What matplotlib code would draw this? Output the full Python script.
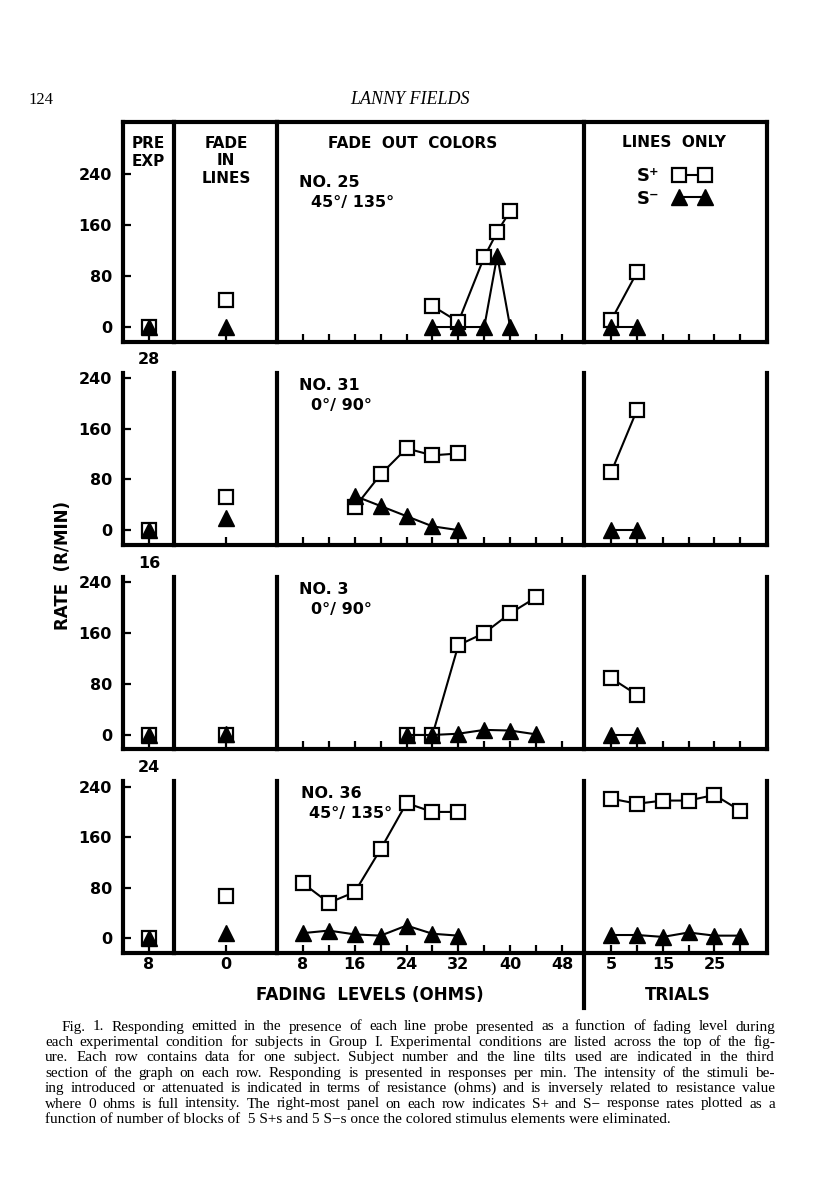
import numpy as np
import matplotlib.pyplot as plt
from matplotlib.lines import Line2D

plt.rcParams['font.family'] = ['DejaVu Sans']
plt.rcParams['font.weight'] = 'bold'

# 数据 (rate, responses per min)
subjects = ['NO. 25', 'NO. 31', 'NO. 3', 'NO. 36']
tilts = ['45°/ 135°', '0°/ 90°', '0°/ 90°', '45°/ 135°']
above_notes = ['', '28', '16', '24']

pre_x = 8
pre_splus = [0, 0, 0, 0]
pre_sminus = [0, 0, 0, 0]

fadein_x = 0
fadein_splus = [42, 52, 0, 67]
fadein_sminus = [0, 19, 2, 8]

# fade out colors (ohms)
fo_ohms = [[28, 32, 36, 38, 40],
           [16, 20, 24, 28, 32],
           [24, 28, 32, 36, 40, 44],
           [8, 12, 16, 20, 24, 28, 32]]
fo_splus = [[33, 8, 110, 149, 182],
            [36, 88, 129, 118, 121],
            [0, 0, 141, 160, 191, 216],
            [87, 56, 73, 141, 214, 200, 200]]
fo_sminus = [[0, 0, 0, 112, 0],
             [54, 38, 22, 6, 0],
             [0, 0, 2, 8, 7, 1],
             [8, 12, 6, 4, 20, 7, 4]]

# lines only (trials)
lo_trials = [[5, 10], [5, 10], [5, 10], [5, 10, 15, 20, 25, 30]]
lo_splus = [[11, 86], [92, 190], [89, 63], [221, 213, 218, 218, 227, 202]]
lo_sminus = [[0, 0], [0, 0], [0, 0], [5, 5, 2, 9, 4, 4]]

fo_major = [8, 16, 24, 32, 40, 48]
fo_minor = [12, 20, 28, 36, 44]
lo_major = [5, 15, 25]
lo_minor = [10, 20, 30]
y_ticks = [0, 80, 160, 240]

caption = [
    "Fig. 1. Responding emitted in the presence of each line probe presented as a function of fading level during",
    "each experimental condition for subjects in Group I. Experimental conditions are listed across the top of the fig-",
    "ure. Each row contains data for one subject. Subject number and the line tilts used are indicated in the third",
    "section of the graph on each row. Responding is presented in responses per min. The intensity of the stimuli be-",
    "ing introduced or attenuated is indicated in terms of resistance (ohms) and is inversely related to resistance value",
    "where 0 ohms is full intensity. The right-most panel on each row indicates S+ and S\u2212 response rates plotted as a",
    "function of number of blocks of  5 S+s and 5 S\u2212s once the colored stimulus elements were eliminated.",
]

W, H = 816, 1200
fig = plt.figure(figsize=(W / 100, H / 100), dpi=100)


def fx(px):
    return px / W


def fy(py):
    return 1 - py / H


col_edges = [123, 174, 277, 584, 767]
xlims = [(6, 10), (-1, 1), (4, 51.4), (-0.3, 35.2)]
row_tops = [122, 373, 577, 781]
row_bots = [342, 545, 749, 953]
ylims = [(-23.5, 321.5), (-23.5, 248), (-22, 248), (-23.5, 249)]

sq = dict(color='k', lw=1.5, marker='s', ms=10, mfc='white', mec='k', mew=1.6, clip_on=False, zorder=3)
tri = dict(color='k', lw=1.5, marker='^', ms=11, mfc='k', mec='k', clip_on=False, zorder=4)

for i in range(4):
    top, bot = row_tops[i], row_bots[i]
    axs = []
    for j in range(4):
        ax = fig.add_axes([fx(col_edges[j]), fy(bot), (col_edges[j + 1] - col_edges[j]) / W, (bot - top) / H])
        ax.set_xlim(*xlims[j])
        ax.set_ylim(*ylims[i])
        for name, sp in ax.spines.items():
            sp.set_linewidth(3.0)
            sp.set_capstyle('projecting')
        ax.spines['top'].set_visible(i == 0)
        ax.spines['right'].set_visible(j == 3)
        ax.tick_params(which='both', direction='in', length=6, width=1.6, labelsize=11.5, pad=3)
        ax.tick_params(axis='y', pad=8)
        if j == 0:
            ax.set_yticks(y_ticks)
        else:
            ax.set_yticks([])
        axs.append(ax)

    axs[0].set_xticks([pre_x])
    axs[1].set_xticks([fadein_x])
    axs[2].set_xticks(fo_major)
    axs[2].set_xticks(fo_minor, minor=True)
    axs[3].set_xticks(lo_major)
    axs[3].set_xticks(lo_minor, minor=True)
    if i < 3:
        for ax in axs:
            ax.tick_params(labelbottom=False)

    # pre exp / fade in single probes
    axs[0].plot([pre_x], [pre_splus[i]], **sq)
    axs[0].plot([pre_x], [pre_sminus[i]], **tri)
    axs[1].plot([fadein_x], [fadein_splus[i]], **sq)
    axs[1].plot([fadein_x], [fadein_sminus[i]], **tri)

    # fade out colors
    axs[2].plot(fo_ohms[i], fo_splus[i], **sq)
    axs[2].plot(fo_ohms[i], fo_sminus[i], **tri)

    # lines only
    axs[3].plot(lo_trials[i], lo_splus[i], **sq)
    axs[3].plot(lo_trials[i], lo_sminus[i], **tri)

    # subject number and tilts
    nudge = [0, 0, 0, 2][i]
    fig.text(fx(299 + nudge), fy(top + (53 if i == 0 else 5)), subjects[i], ha='left', va='top', size=11.5)
    fig.text(fx(311 - nudge), fy(top + (73 if i == 0 else 25)), tilts[i], ha='left', va='top', size=11.5)

    if above_notes[i]:
        fig.text(fx(149), fy(top - 14), above_notes[i], ha='center', va='center', size=11.5)

    if i == 0:
        fig.text(fx(148), fy(136), 'PRE\nEXP', ha='center', va='top', size=11, linespacing=1.25)
        fig.text(fx(226), fy(136), 'FADE\nIN\nLINES', ha='center', va='top', size=11, linespacing=1.2)
        fig.text(fx(413), fy(136), 'FADE  OUT  COLORS', ha='center', va='top', size=11)
        fig.text(fx(674), fy(135), 'LINES  ONLY', ha='center', va='top', size=11)
        handles = [Line2D([], [], color='k', lw=1.5, marker='s', ms=10, mfc='white', mec='k', mew=1.6),
                   Line2D([], [], color='k', lw=1.5, marker='^', ms=11)]
        axs[3].legend(handles, ['S\u207a', 'S\u207b'], loc='upper right',
                      bbox_to_anchor=(fx(710), fy(167)), bbox_transform=fig.transFigure,
                      frameon=False, markerfirst=False, numpoints=2, handlelength=2.0,
                      handletextpad=0.8, labelspacing=0.25, borderpad=0, borderaxespad=0,
                      prop={'weight': 'bold', 'size': 13})

    if i == 3:
        axs[3].axvline(xlims[3][0], ymin=-0.32, ymax=0, color='k', lw=3.0, clip_on=False)

fig.text(fx(63), fy(565), 'RATE  (R/MIN)', rotation=90, ha='center', va='center', size=12)
fig.text(fx(370), fy(995), 'FADING  LEVELS (OHMS)', ha='center', va='center', size=12)
fig.text(fx(678), fy(995), 'TRIALS', ha='center', va='center', size=12)

# page header
fig.text(fx(28), fy(100), '124', ha='left', va='center', family='Liberation Serif', weight='normal', size=12)
fig.text(fx(410), fy(100), 'LANNY FIELDS', ha='center', va='center', family='Liberation Serif',
         style='italic', weight='normal', size=13)

# caption, justified line by line
fig.canvas.draw()
renderer = fig.canvas.get_renderer()
cap_left, cap_right = 45, 775
cap_size = 11
for k, line in enumerate(caption):
    y = fy(1027 + k * 15.4)
    x0 = cap_left + (17 if k == 0 else 0)
    if k == len(caption) - 1:
        fig.text(fx(x0), y, line, ha='left', va='center', family='Liberation Serif', weight='normal', size=cap_size)
        continue
    words = line.split()
    texts = [fig.text(0, y, w, ha='left', va='center', family='Liberation Serif', weight='normal', size=cap_size)
             for w in words]
    widths = [t.get_window_extent(renderer).width for t in texts]
    gap = max((cap_right - x0 - sum(widths)) / (len(words) - 1), 2.0)
    x = x0
    for t, w in zip(texts, widths):
        t.set_x(fx(x))
        x += w + gap

fig.savefig('out.png', dpi=100, facecolor='white')
